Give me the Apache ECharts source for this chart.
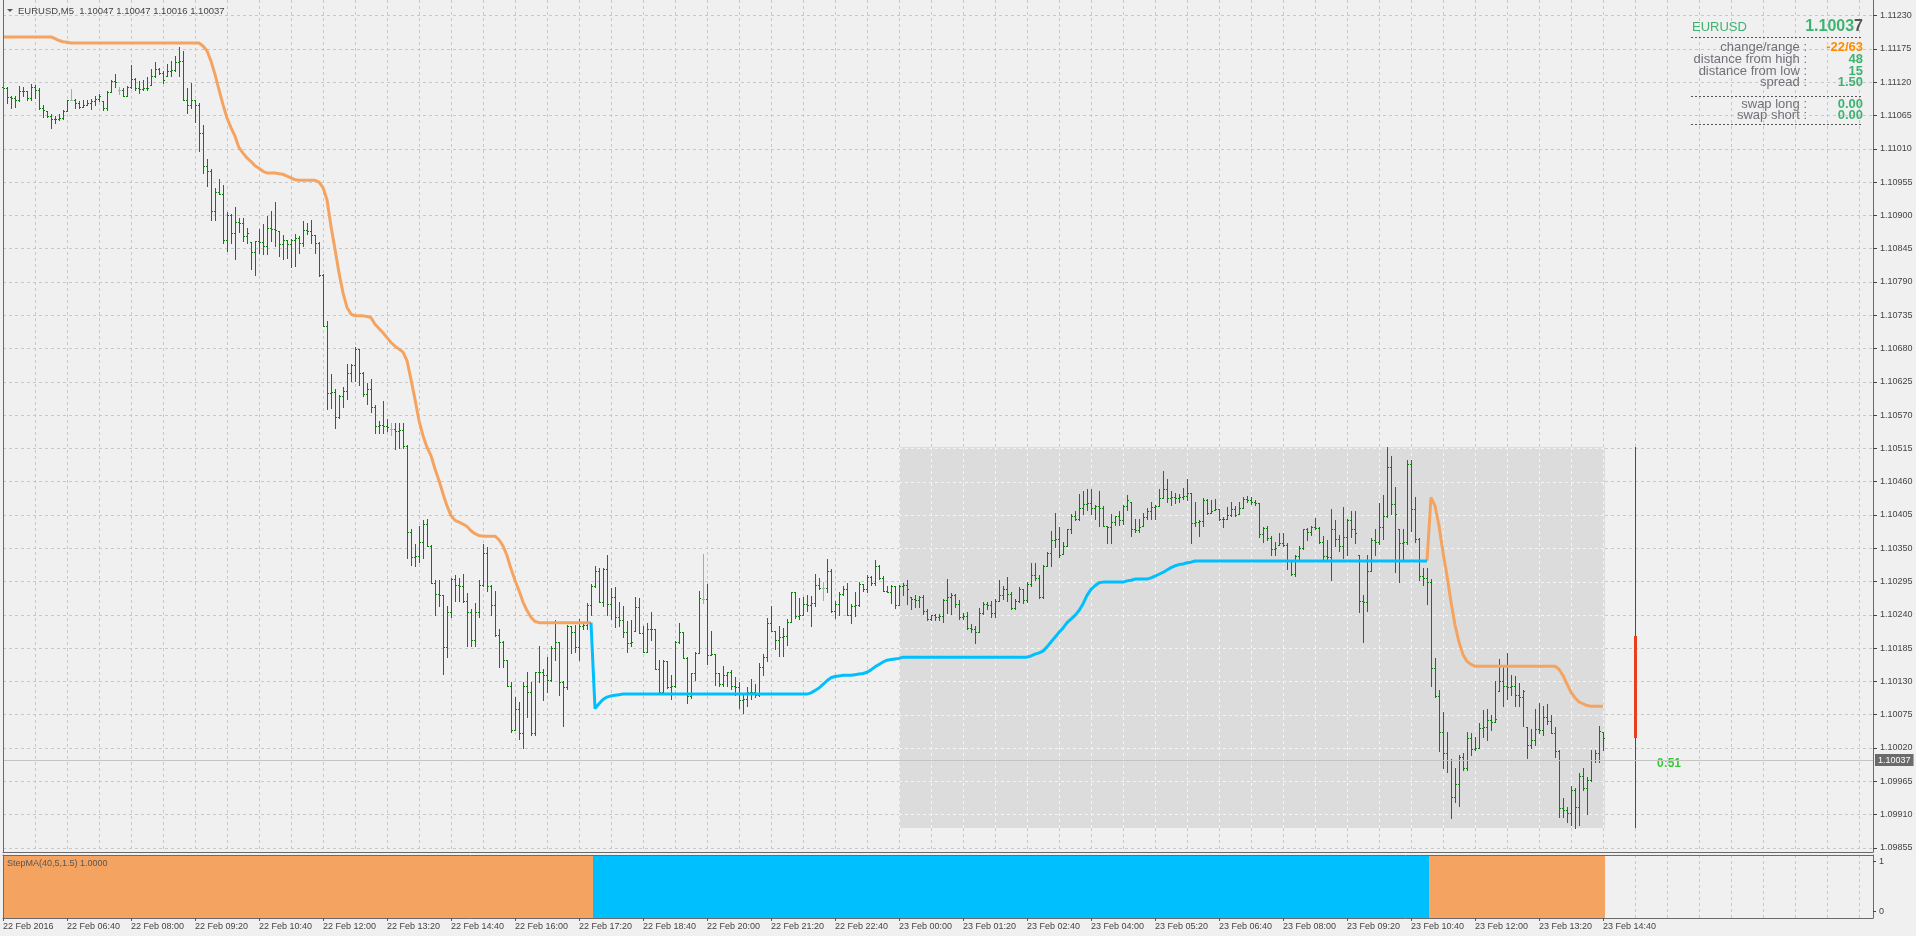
<!DOCTYPE html>
<html>
<head>
<meta charset="utf-8">
<title>EURUSD,M5</title>
<script src="https://cdn.jsdelivr.net/npm/echarts@6.0.0/dist/echarts.min.js"></script>
<style>
  html, body { margin: 0; padding: 0; background: #f0f0f0; }
  #chart { width: 1916px; height: 936px; }
</style>
</head>
<body>
<div id="chart"></div>
<script>
// EURUSD M5 bars, 22 Feb 2016 05:20 -> 23 Feb 2016 14:40 (bar index 0..400)
const opens = [
  1.11112,1.1111,1.11096,1.11094,1.1109,1.11106,1.11105,1.11094,1.11113,1.11108,
  1.11078,1.11072,1.11064,1.1106,1.11059,1.11061,1.11073,1.11091,1.11091,1.11086,
  1.1108,1.11083,1.11086,1.11089,1.11092,1.11089,1.11078,1.11104,1.11122,1.11108,
  1.11108,1.11098,1.11113,1.11125,1.11111,1.11109,1.1111,1.11116,1.1113,1.11142,
  1.11135,1.1113,1.11138,1.1114,1.11153,1.11155,1.11091,1.11082,1.11091,1.11083,
  1.11036,1.10981,1.10973,1.10907,1.10938,1.10936,1.1086,1.109,1.10871,1.10889,
  1.10888,1.10866,1.10856,1.10839,1.10858,1.10856,1.1085,1.1088,1.10878,1.10874,
  1.10852,1.10859,1.10852,1.1086,1.10862,1.10854,1.10876,1.10874,1.10867,1.10855,
  1.10801,1.10718,1.10606,1.10608,1.10567,1.10601,1.1061,1.10639,1.10652,1.1068,
  1.10639,1.10605,1.10613,1.10584,1.10552,1.10554,1.10552,1.10547,1.10547,1.10543,
  1.10545,1.10519,1.10376,1.10335,1.10337,1.1036,1.1039,1.10354,1.10293,1.10275,
  1.10273,1.10187,1.10244,1.10299,1.10289,1.10287,1.10262,1.10244,1.10198,1.10244,
  1.10289,1.10342,1.10287,1.10256,1.10206,1.10195,1.10166,1.10122,1.10049,1.10085,
  1.10044,1.10123,1.10113,1.10044,1.10145,1.10146,1.1014,1.10132,1.10185,1.10195,
  1.10129,1.10121,1.10221,1.10211,1.10187,1.10222,1.10223,1.10256,1.10288,1.10313,
  1.10261,1.10315,1.10258,1.10269,1.10236,1.10231,1.10211,1.10194,1.10214,1.10253,
  1.1021,1.10179,1.10217,1.10216,1.10151,1.10112,1.10163,1.10121,1.10123,1.10195,
  1.10211,1.10168,1.10106,1.10143,1.10177,1.10266,1.10266,1.10174,1.10176,1.10144,
  1.10126,1.1014,1.10146,1.10122,1.10121,1.101,1.10101,1.10113,1.10112,1.10107,
  1.10154,1.1017,1.10227,1.10214,1.10198,1.10203,1.10205,1.10228,1.10277,1.10238,
  1.1024,1.10258,1.10256,1.1026,1.10289,1.10284,1.10284,1.10313,1.10247,1.10258,
  1.10275,1.10283,1.10239,1.10254,1.10256,1.10291,1.10283,1.10302,1.10293,1.1032,
  1.103,1.1028,1.10278,1.10287,1.10257,1.10288,1.1029,1.10269,1.10266,1.10264,
  1.10269,1.10247,1.10233,1.10239,1.10237,1.10238,1.10264,1.10269,1.10272,1.10258,
  1.10236,1.10238,1.10218,1.10216,1.10212,1.10243,1.10258,1.10256,1.10243,1.10262,
  1.10273,1.10283,1.10275,1.10251,1.10262,1.10283,1.10264,1.10291,1.10305,1.103,
  1.10269,1.10321,1.10342,1.10363,1.10365,1.10341,1.10354,1.10381,1.10404,1.10398,
  1.10416,1.10423,1.10425,1.10416,1.10419,1.10417,1.10386,1.10385,1.10393,1.10403,
  1.10396,1.10419,1.10427,1.10382,1.1038,1.10386,1.10401,1.10412,1.10418,1.1042,
  1.10433,1.10448,1.10433,1.10434,1.10433,1.10434,1.10437,1.10441,1.10392,1.10393,
  1.10395,1.1043,1.10409,1.10414,1.10415,1.10398,1.10399,1.10405,1.10415,1.10407,
  1.10416,1.10431,1.10429,1.10427,1.10425,1.10374,1.10383,1.10367,1.10349,1.10356,
  1.10359,1.10356,1.1033,1.10308,1.10337,1.1035,1.10381,1.10376,1.10385,1.10383,
  1.1036,1.10337,1.10335,1.10381,1.10365,1.10354,1.10368,1.10396,1.10382,1.10339,
  1.10262,1.10261,1.10313,1.10364,1.1036,1.10385,1.10403,1.10484,1.10423,1.10382,
  1.10359,1.10361,1.10489,1.10415,1.10365,1.10304,1.10301,1.10294,1.10152,1.10106,
  1.10047,1.10011,1.1,1.09939,1.09961,1.10005,1.09987,1.10037,1.10018,1.1002,
  1.10053,1.10055,1.10066,1.10063,1.10114,1.1013,1.10122,1.1012,1.10123,1.10107,
  1.10104,1.10055,1.10024,1.10033,1.10052,1.10049,1.10071,1.10064,1.10045,1.10015,
  1.0992,1.09918,1.09912,1.0995,1.09923,1.09974,1.09953,1.09967,1.1,1.10011,
  1.10047
];
const highs = [
  1.1112,1.11113,1.11098,1.11098,1.11114,1.11113,1.11105,1.11117,1.11116,1.11111,
  1.11083,1.11072,1.11067,1.11064,1.11068,1.11075,1.11091,1.11109,1.11092,1.11089,
  1.11091,1.1109,1.11092,1.11097,1.111,1.11089,1.11105,1.11124,1.11134,1.11113,
  1.11111,1.11114,1.11148,1.11127,1.11122,1.11123,1.11129,1.11142,1.11153,1.11144,
  1.11138,1.1115,1.11155,1.11163,1.11178,1.11171,1.11111,1.11119,1.11091,1.11085,
  1.1105,1.10993,1.10977,1.10946,1.1096,1.10951,1.10905,1.10902,1.10914,1.10896,
  1.10895,1.1088,1.10856,1.10858,1.10877,1.10885,1.10899,1.10907,1.10922,1.10874,
  1.10867,1.1086,1.10861,1.10869,1.10866,1.1089,1.10888,1.10893,1.10867,1.10856,
  1.10803,1.10725,1.10638,1.10613,1.10603,1.10616,1.10654,1.10654,1.10682,1.1068,
  1.10642,1.10623,1.10629,1.10586,1.10561,1.10594,1.10564,1.10557,1.10557,1.10557,
  1.10557,1.1052,1.10382,1.10357,1.10387,1.10397,1.10398,1.10356,1.10298,1.10298,
  1.10273,1.10255,1.10301,1.10305,1.103,1.10308,1.10276,1.1025,1.1026,1.10297,
  1.10357,1.10352,1.10289,1.1028,1.10217,1.10196,1.10166,1.10129,1.10104,1.10096,
  1.10129,1.10146,1.10129,1.10146,1.10189,1.10151,1.1017,1.10189,1.10232,1.10195,
  1.1013,1.10223,1.10222,1.10223,1.10233,1.10228,1.1026,1.10291,1.1032,1.10317,
  1.10317,1.10339,1.10284,1.10286,1.10261,1.10255,1.10229,1.10231,1.10269,1.10268,
  1.10222,1.10227,1.10244,1.10217,1.10165,1.10166,1.10163,1.10141,1.10196,1.10227,
  1.10211,1.1017,1.10143,1.10178,1.1028,1.10341,1.10291,1.10213,1.10176,1.10144,
  1.10156,1.10146,1.10148,1.10137,1.10129,1.10107,1.10121,1.10134,1.10126,1.10161,
  1.10176,1.10234,1.10254,1.10214,1.10222,1.10218,1.10233,1.10278,1.10278,1.10267,
  1.10269,1.10273,1.10271,1.10308,1.103,1.10294,1.10332,1.10316,1.10262,1.10277,
  1.10287,1.10293,1.10258,1.10277,1.10295,1.10291,1.10305,1.10304,1.1033,1.10323,
  1.10304,1.10288,1.10289,1.10288,1.10289,1.10292,1.10298,1.10269,1.10272,1.10271,
  1.10272,1.1025,1.1024,1.10242,1.10242,1.10266,1.10299,1.10276,1.10275,1.10264,
  1.10243,1.10244,1.10225,1.10222,1.10251,1.10261,1.10261,1.10262,1.10266,1.10297,
  1.10288,1.10302,1.10277,1.10266,1.10286,1.10283,1.10294,1.10326,1.10326,1.10305,
  1.10322,1.10343,1.10378,1.10408,1.10385,1.1036,1.10382,1.10407,1.10412,1.1044,
  1.10445,1.10448,1.10448,1.10421,1.10444,1.1042,1.10386,1.10407,1.10404,1.10412,
  1.10421,1.10438,1.10427,1.10399,1.10399,1.10408,1.10416,1.10426,1.10421,1.10448,
  1.10478,1.10465,1.10445,1.10442,1.1044,1.10449,1.10465,1.10441,1.10427,1.10396,
  1.10433,1.10431,1.1043,1.10431,1.10415,1.10401,1.10418,1.10427,1.1042,1.10426,
  1.10434,1.10436,1.10434,1.10429,1.10425,1.10385,1.10386,1.10371,1.10361,1.10375,
  1.10375,1.10359,1.1033,1.10339,1.10353,1.10382,1.10383,1.10387,1.104,1.10385,
  1.10371,1.10363,1.10415,1.10396,1.10372,1.10418,1.10398,1.10411,1.10412,1.10339,
  1.10272,1.10339,1.10367,1.10382,1.10425,1.10438,1.10517,1.10503,1.10452,1.10382,
  1.10382,1.10495,1.10495,1.10434,1.10367,1.10317,1.10317,1.10299,1.10169,1.10115,
  1.10079,1.10047,1.10002,1.09987,1.10009,1.10011,1.10047,1.10045,1.10038,1.10062,
  1.10082,1.10085,1.10075,1.1013,1.10167,1.10157,1.10177,1.10141,1.10139,1.10128,
  1.10115,1.10055,1.10052,1.10084,1.10095,1.1009,1.10093,1.10074,1.10055,1.10016,
  1.09938,1.09923,1.09957,1.09953,1.09978,1.09986,1.09972,1.10016,1.10016,1.10056,
  1.10047
];
const lows = [
  1.11104,1.11086,1.11078,1.1108,1.11089,1.11097,1.11091,1.1109,1.11094,1.11076,
  1.11062,1.11062,1.11045,1.11053,1.11058,1.1106,1.11072,1.1109,1.11078,1.11078,
  1.1108,1.11083,1.11076,1.11083,1.11089,1.11075,1.11075,1.11104,1.11112,1.11101,
  1.11097,1.11097,1.11111,1.11108,1.11102,1.11107,1.11108,1.11116,1.11129,1.11133,
  1.11119,1.1113,1.1113,1.11138,1.1113,1.11091,1.11069,1.11078,1.11054,1.11006,
  1.1097,1.10948,1.10892,1.10893,1.10935,1.10855,1.10841,1.10854,1.10828,1.10872,
  1.10858,1.10854,1.10811,1.10801,1.10838,1.10836,1.10836,1.10858,1.10849,1.10833,
  1.10828,1.1083,1.10814,1.10816,1.10838,1.10849,1.10869,1.10855,1.10838,1.108,
  1.10718,1.1058,1.10581,1.10548,1.10566,1.10583,1.10596,1.10627,1.10627,1.1062,
  1.10602,1.10588,1.10575,1.10541,1.1054,1.1054,1.10544,1.10537,1.10514,1.10516,
  1.10516,1.10334,1.10322,1.1032,1.10328,1.10334,1.10354,1.10293,1.1024,1.10255,
  1.10142,1.1017,1.10236,1.10262,1.10262,1.10261,1.10188,1.10189,1.10188,1.10236,
  1.10287,1.10279,1.10239,1.10205,1.10154,1.10154,1.10122,1.10046,1.10049,1.10035,
  1.1002,1.10071,1.10041,1.10041,1.10129,1.10099,1.10112,1.1013,1.10166,1.10107,
  1.10057,1.10118,1.10177,1.10179,1.10166,1.10216,1.10217,1.1024,1.10286,1.10261,
  1.10255,1.1024,1.10233,1.1022,1.10222,1.10203,1.10179,1.10189,1.10214,1.1021,
  1.10179,1.10179,1.10199,1.1015,1.10112,1.10112,1.10119,1.10101,1.10121,1.10193,
  1.10168,1.10095,1.10103,1.10132,1.10177,1.1026,1.10159,1.10174,1.10124,1.10123,
  1.10122,1.10123,1.10117,1.10107,1.10086,1.10078,1.1009,1.10101,1.10104,1.10106,
  1.1014,1.10163,1.10213,1.10184,1.10172,1.10172,1.1019,1.10228,1.10235,1.10233,
  1.10239,1.10247,1.10221,1.10255,1.10283,1.10265,1.10277,1.10245,1.10234,1.10239,
  1.10272,1.10239,1.10227,1.10238,1.10254,1.1028,1.10277,1.10289,1.10289,1.10299,
  1.10279,1.10277,1.1026,1.10251,1.10257,1.10272,1.10258,1.1025,1.10253,1.10253,
  1.10242,1.10231,1.10231,1.10231,1.10232,1.10228,1.10243,1.10242,1.10253,1.10233,
  1.10233,1.10217,1.10211,1.10194,1.10211,1.10242,1.1025,1.10236,1.10236,1.10262,
  1.10266,1.10262,1.10249,1.1025,1.10261,1.1026,1.10261,1.10287,1.10298,1.10268,
  1.10268,1.10321,1.10321,1.10352,1.10335,1.10341,1.10354,1.10375,1.10397,1.10397,
  1.10407,1.10414,1.10407,1.10398,1.10387,1.10386,1.10359,1.10359,1.10388,1.10388,
  1.1039,1.10414,1.1037,1.10376,1.10376,1.10386,1.10398,1.10399,1.10399,1.10419,
  1.10433,1.10427,1.10421,1.10425,1.10427,1.10431,1.1043,1.10359,1.10387,1.1037,
  1.10386,1.10407,1.10409,1.10414,1.10396,1.10385,1.10399,1.10404,1.10403,1.10407,
  1.10416,1.10426,1.10423,1.10422,1.10368,1.10361,1.10363,1.10339,1.10339,1.10356,
  1.10354,1.10315,1.10306,1.10304,1.10332,1.10349,1.10364,1.10372,1.10381,1.10359,
  1.10332,1.10332,1.10298,1.10354,1.10345,1.10334,1.10338,1.10368,1.10359,1.10244,
  1.10195,1.10247,1.10313,1.10339,1.10357,1.10365,1.10401,1.10407,1.1031,1.10295,
  1.10332,1.10357,1.10378,1.10361,1.10298,1.1029,1.10258,1.10122,1.10104,1.10015,
  1.09987,1.0998,1.09904,1.09931,1.09924,1.09983,1.09983,1.10009,1.10016,1.1002,
  1.10038,1.10033,1.10049,1.10063,1.10114,1.10089,1.10101,1.10107,1.10089,1.1009,
  1.10057,1.10004,1.1002,1.10025,1.10045,1.10042,1.10059,1.10044,1.10005,1.09906,
  1.09906,1.09898,1.09892,1.09887,1.09892,1.0995,1.0991,1.09965,1.09997,1.09997,
  1.10016
];
const closes = [
  1.1111,1.11096,1.11094,1.1109,1.11106,1.11105,1.11094,1.11113,1.11108,1.11078,
  1.11074,1.11064,1.1106,1.11059,1.11061,1.11073,1.1109,1.11091,1.11086,1.11079,
  1.11083,1.11086,1.11089,1.11092,1.11097,1.11078,1.11104,1.11122,1.1112,1.11108,
  1.11098,1.11113,1.11125,1.11111,1.11109,1.1111,1.11111,1.1113,1.11142,1.11135,
  1.11124,1.11138,1.1114,1.11153,1.11155,1.11091,1.11082,1.11091,1.11083,1.11036,
  1.10981,1.10973,1.10907,1.10938,1.10936,1.1086,1.109,1.10871,1.10889,1.10888,
  1.10866,1.10871,1.10839,1.10858,1.10856,1.1085,1.1088,1.10878,1.10876,1.10852,
  1.10859,1.10852,1.1086,1.10862,1.10854,1.10876,1.10874,1.10867,1.10855,1.10801,
  1.10718,1.10606,1.10608,1.10567,1.10601,1.1061,1.10639,1.10652,1.1068,1.10639,
  1.10605,1.10613,1.10584,1.10552,1.10554,1.10552,1.1055,1.10547,1.10543,1.10545,
  1.10519,1.10376,1.10335,1.10337,1.1036,1.1039,1.10354,1.10293,1.10275,1.10273,
  1.10187,1.10244,1.10299,1.10289,1.10287,1.10262,1.10244,1.10198,1.10244,1.10289,
  1.10342,1.10287,1.10256,1.10206,1.10195,1.10166,1.10122,1.10049,1.10085,1.10044,
  1.10123,1.10113,1.10044,1.10145,1.10146,1.1014,1.10132,1.10185,1.10195,1.10129,
  1.10121,1.10221,1.10211,1.10187,1.10222,1.10223,1.10256,1.10288,1.10313,1.10261,
  1.10315,1.10258,1.10269,1.10236,1.10231,1.10211,1.10194,1.10195,1.10253,1.1021,
  1.10179,1.10217,1.10216,1.10151,1.10112,1.10163,1.10121,1.10123,1.10195,1.10211,
  1.10168,1.10106,1.10143,1.10177,1.10267,1.10266,1.10174,1.10176,1.10144,1.10126,
  1.1014,1.10146,1.10122,1.10121,1.101,1.10101,1.10113,1.10112,1.10107,1.10154,
  1.1017,1.10227,1.10214,1.10198,1.10203,1.10205,1.10228,1.10277,1.10238,1.1024,
  1.10258,1.10256,1.1026,1.10289,1.10284,1.10284,1.10313,1.10247,1.10258,1.10275,
  1.10283,1.10239,1.10254,1.10256,1.10291,1.10283,1.10302,1.10293,1.1032,1.103,
  1.1028,1.10278,1.10287,1.10257,1.10288,1.1029,1.10283,1.10266,1.10264,1.10269,
  1.10247,1.10233,1.10239,1.10237,1.10238,1.10264,1.10269,1.10272,1.10258,1.10236,
  1.10238,1.10218,1.10216,1.10212,1.10243,1.10258,1.10256,1.10243,1.10262,1.10273,
  1.10283,1.10275,1.10251,1.10262,1.10283,1.10264,1.10291,1.10305,1.103,1.10269,
  1.10321,1.10342,1.10363,1.10365,1.10339,1.10354,1.10381,1.10404,1.10398,1.10416,
  1.10423,1.10425,1.10416,1.10419,1.10417,1.10387,1.10385,1.10393,1.10403,1.10396,
  1.10419,1.10429,1.10382,1.1038,1.10385,1.10401,1.10412,1.10418,1.1042,1.10433,
  1.10448,1.10433,1.10434,1.10433,1.10434,1.10437,1.10441,1.10392,1.10393,1.10395,
  1.1043,1.10409,1.10412,1.10415,1.10398,1.10399,1.10405,1.10415,1.10405,1.10416,
  1.10431,1.10429,1.10427,1.10425,1.10374,1.10383,1.10367,1.10349,1.10351,1.10359,
  1.10356,1.1033,1.10308,1.10337,1.1035,1.10381,1.10376,1.10385,1.10383,1.1036,
  1.10337,1.10335,1.10381,1.10365,1.10354,1.10368,1.10396,1.10382,1.10375,1.10262,
  1.10261,1.10313,1.10364,1.1036,1.10385,1.10403,1.10484,1.10423,1.10407,1.10359,
  1.10361,1.10489,1.10415,1.10365,1.10304,1.10301,1.10294,1.10152,1.10106,1.10047,
  1.10011,1.1,1.09939,1.09961,1.10005,1.09987,1.10037,1.10018,1.1002,1.10053,
  1.10055,1.10066,1.10063,1.10068,1.1013,1.10122,1.1012,1.10123,1.10107,1.10104,
  1.10114,1.10024,1.10033,1.10052,1.10049,1.10071,1.10064,1.10045,1.10015,1.0992,
  1.09918,1.09912,1.0995,1.09923,1.09974,1.09953,1.09967,1.1,1.10011,1.10048,
  1.10037
];

// StepMA(40,5,1.5) value on every bar
const stepMA = [
  1.11195,1.11195,1.11195,1.11195,1.11195,1.11195,1.11195,1.11195,1.11195,1.11195,
  1.11195,1.11195,1.11195,1.11192,1.11189,1.11187,1.11186,1.11185,1.11185,1.11185,
  1.11185,1.11185,1.11185,1.11185,1.11185,1.11185,1.11185,1.11185,1.11185,1.11185,
  1.11185,1.11185,1.11185,1.11185,1.11185,1.11185,1.11185,1.11185,1.11185,1.11185,
  1.11185,1.11185,1.11185,1.11185,1.11185,1.11185,1.11185,1.11185,1.11185,1.11185,
  1.1118,1.11172,1.11155,1.11133,1.11108,1.11083,1.11061,1.11045,1.11031,1.11012,
  1.11003,1.10995,1.10989,1.10982,1.10978,1.10973,1.1097,1.1097,1.1097,1.10969,
  1.10968,1.10965,1.10962,1.10959,1.10958,1.10958,1.10958,1.10958,1.10958,1.10955,
  1.10946,1.10926,1.10882,1.10844,1.10805,1.10772,1.10748,1.10737,1.10734,1.10734,
  1.10734,1.10733,1.10731,1.1072,1.10713,1.10706,1.10698,1.1069,1.10684,1.10679,
  1.10674,1.1066,1.10629,1.10596,1.10561,1.10536,1.10517,1.10503,1.10481,1.10462,
  1.1044,1.1042,1.10404,1.10396,1.10393,1.1039,1.10386,1.10379,1.10374,1.10371,
  1.1037,1.1037,1.1037,1.1037,1.10364,1.10354,1.10338,1.10316,1.10297,1.1028,
  1.10261,1.10247,1.10236,1.10229,1.10227,1.10227,1.10227,1.10227,1.10227,1.10227,
  1.10227,1.10227,1.10227,1.10227,1.10227,1.10227,1.10227,1.10227,1.10085,1.10093,
  1.101,1.10104,1.10106,1.10107,1.10108,1.10109,1.10109,1.10109,1.10109,1.10109,
  1.10109,1.10109,1.10109,1.10109,1.10109,1.10109,1.10109,1.10109,1.10109,1.10109,
  1.10109,1.10109,1.10109,1.10109,1.10109,1.10109,1.10109,1.10109,1.10109,1.10109,
  1.10109,1.10109,1.10109,1.10109,1.10109,1.10109,1.10109,1.10109,1.10109,1.10109,
  1.10109,1.10109,1.10109,1.10109,1.10109,1.10109,1.10109,1.10109,1.10109,1.10109,
  1.10109,1.10109,1.10111,1.10115,1.10119,1.10125,1.10131,1.10136,1.10138,1.10139,
  1.1014,1.1014,1.1014,1.10141,1.10142,1.10143,1.10145,1.10149,1.10154,1.10158,
  1.10162,1.10165,1.10166,1.10167,1.10168,1.1017,1.1017,1.1017,1.1017,1.1017,
  1.1017,1.1017,1.1017,1.1017,1.1017,1.1017,1.1017,1.1017,1.1017,1.1017,
  1.1017,1.1017,1.1017,1.1017,1.1017,1.1017,1.1017,1.1017,1.1017,1.1017,
  1.1017,1.1017,1.1017,1.1017,1.1017,1.1017,1.1017,1.10172,1.10175,1.10177,
  1.1018,1.10187,1.10195,1.10203,1.10211,1.10218,1.10227,1.10233,1.10239,1.10247,
  1.10258,1.10272,1.10282,1.10288,1.10293,1.10294,1.10294,1.10294,1.10294,1.10294,
  1.10294,1.10296,1.10297,1.10299,1.10299,1.10299,1.10299,1.10301,1.10304,1.10307,
  1.1031,1.10314,1.10318,1.10321,1.10323,1.10324,1.10326,1.10327,1.10329,1.10329,
  1.10329,1.10329,1.10329,1.10329,1.10329,1.10329,1.10329,1.10329,1.10329,1.10329,
  1.10329,1.10329,1.10329,1.10329,1.10329,1.10329,1.10329,1.10329,1.10329,1.10329,
  1.10329,1.10329,1.10329,1.10329,1.10329,1.10329,1.10329,1.10329,1.10329,1.10329,
  1.10329,1.10329,1.10329,1.10329,1.10329,1.10329,1.10329,1.10329,1.10329,1.10329,
  1.10329,1.10329,1.10329,1.10329,1.10329,1.10329,1.10329,1.10329,1.10329,1.10329,
  1.10329,1.10329,1.10329,1.10329,1.10329,1.10329,1.10329,1.10434,1.1042,1.10387,
  1.10343,1.10305,1.10261,1.10223,1.10195,1.10174,1.10163,1.10158,1.10155,1.10155,
  1.10155,1.10155,1.10155,1.10155,1.10155,1.10155,1.10155,1.10155,1.10155,1.10155,
  1.10155,1.10155,1.10155,1.10155,1.10155,1.10155,1.10155,1.10155,1.10155,1.1015,
  1.1014,1.10126,1.10112,1.10103,1.10096,1.10093,1.1009,1.10089,1.10089,1.10089,
  1.10089
];
// trend runs of the StepMA colour (bar index from..to)
const trendRuns = [[0, 147, 'down'], [148, 356, 'up'], [357, 400, 'down']];

// x axis labels every 16 bars
const tickBars = [0,16,32,48,64,80,96,112,128,144,160,176,192,208,224,240,256,272,288,304,320,336,352,368,384,400];
const tickLabels = ['22 Feb 2016','22 Feb 06:40','22 Feb 08:00','22 Feb 09:20','22 Feb 10:40','22 Feb 12:00',
  '22 Feb 13:20','22 Feb 14:40','22 Feb 16:00','22 Feb 17:20','22 Feb 18:40','22 Feb 20:00','22 Feb 21:20',
  '22 Feb 22:40','23 Feb 00:00','23 Feb 01:20','23 Feb 02:40','23 Feb 04:00','23 Feb 05:20','23 Feb 06:40',
  '23 Feb 08:00','23 Feb 09:20','23 Feb 10:40','23 Feb 12:00','23 Feb 13:20','23 Feb 14:40'];
const priceTicks = [1.11230,1.11175,1.11120,1.11065,1.11010,1.10955,1.10900,1.10845,1.10790,1.10735,
  1.10680,1.10625,1.10570,1.10515,1.10460,1.10405,1.10350,1.10295,1.10240,1.10185,1.10130,1.10075,
  1.10020,1.09965,1.09910,1.09855];

const symbol = 'EURUSD';
const period = 'M5';
const dayStart = 224;          // 23 Feb 00:00
const timerBar = 408;
const timerText = '0:51';
const timerCandleOpen = 1.10205;
const spread = 1.50;
const swapLong = 0.00;
const swapShort = 0.00;

const FONT = '"Liberation Sans", Arial, sans-serif';
const DOWN = '#F4A460';
const UP = '#00BFFF';
const GREEN = '#3CB371';
const last = closes.length - 1;
const lastClose = closes[last];
const dayHigh = Math.max(...highs.slice(dayStart));
const dayLow = Math.min(...lows.slice(dayStart));
const dayOpen = opens[dayStart];
const pip = 0.0001;
const changePips = Math.round((lastClose - dayOpen) / pip);
const rangePips = Math.round((dayHigh - dayLow) / pip);
const fromHigh = Math.round((dayHigh - lastClose) / pip);
const fromLow = Math.round((lastClose - dayLow) / pip);

function trendAt(i) {
  for (const r of trendRuns) if (i >= r[0] && i <= r[1]) return r[2];
  return null;
}

const barData = closes.map((c, i) => [i, opens[i], highs[i], lows[i], c]);
const downLine = stepMA.map((v, i) => [i, (trendAt(i) === 'down' || trendAt(i + 1) === 'down') ? v : '-']);
const upLine = stepMA.map((v, i) => [i, (trendAt(i) === 'up' || trendAt(i + 1) === 'up') ? v : '-']);
const trendData = stepMA.map((v, i) => [i, 1, trendAt(i) === 'up' ? 1 : 0]);

function renderBar(params, api) {
  const i = api.value(0);
  const o = api.coord([i, api.value(1)]);
  const h = api.coord([i, api.value(2)]);
  const l = api.coord([i, api.value(3)]);
  const c = api.coord([i, api.value(4)]);
  const x = Math.floor(h[0]);
  const yH = Math.round(h[1]);
  const yL = Math.round(l[1]);
  const color = api.value(1) === api.value(4) ? '#A9A9A9' : '#0A800A';
  return {
    type: 'group',
    children: [
      { type: 'rect', shape: { x: x, y: yH, width: 1, height: Math.max(1, yL - yH + 1) }, style: { fill: color } },
      { type: 'rect', shape: { x: x - 1, y: Math.round(o[1]), width: 1, height: 1 }, style: { fill: color } },
      { type: 'rect', shape: { x: x + 1, y: Math.round(c[1]), width: 1, height: 1 }, style: { fill: color } }
    ]
  };
}

function renderDayBox(params, api) {
  const s = api.value(0), e = api.value(1), hi = api.value(2), lo = api.value(3);
  const a = api.coord([s, hi]);
  const b = api.coord([e, lo]);
  const left = Math.floor(a[0]);
  const right = Math.floor(b[0]) + 2;
  const top = Math.round(a[1]);
  const bottom = Math.round(b[1]);
  const children = [{ type: 'rect', shape: { x: left, y: top, width: right - left, height: bottom - top }, style: { fill: '#DCDCDC' } }];
  priceTicks.forEach(p => {
    if (p > lo && p < hi) {
      const y = Math.round(api.coord([s, p])[1]) + 0.5;
      children.push({ type: 'line', shape: { x1: left, y1: y, x2: right, y2: y }, style: { stroke: '#F4F4F4', lineWidth: 1, lineDash: [3, 3] } });
    }
  });
  for (let k = Math.ceil(s / 8) * 8; k <= e; k += 8) {
    const x = Math.round(api.coord([k, hi])[0]) + 0.5;
    children.push({ type: 'line', shape: { x1: x, y1: top, x2: x, y2: bottom }, style: { stroke: '#F4F4F4', lineWidth: 1, lineDash: [3, 3] } });
  }
  return { type: 'group', children: children };
}

function renderDayCandle(params, api) {
  const i = api.value(0);
  const o = api.coord([i, api.value(1)]);
  const h = api.coord([i, api.value(2)]);
  const l = api.coord([i, api.value(3)]);
  const c = api.coord([i, api.value(4)]);
  const x = Math.floor(h[0]);
  const yO = Math.round(o[1]), yC = Math.round(c[1]);
  return {
    type: 'group',
    children: [
      { type: 'rect', shape: { x: x, y: Math.round(h[1]), width: 1, height: Math.round(l[1]) - Math.round(h[1]) }, style: { fill: '#FF0000' } },
      { type: 'rect', shape: { x: x - 1, y: Math.min(yO, yC), width: 3, height: Math.abs(yC - yO) }, style: { fill: '#E8401C' } },
      { type: 'text', x: x + 22, y: yC + 26, style: { text: timerText, font: 'bold 12px ' + FONT, fill: '#32CD32', verticalAlign: 'middle' } }
    ]
  };
}

function renderTrend(params, api) {
  const i = api.value(0);
  const a = api.coord([i - 0.5, api.value(1)]);
  const b = api.coord([i + 0.5, 0]);
  const x0 = Math.round(a[0]), x1 = Math.round(b[0]);
  const y0 = Math.round(a[1]) + 1, y1 = Math.round(b[1]);
  return { type: 'rect', shape: { x: x0, y: y0, width: x1 - x0, height: y1 - y0 }, style: { fill: api.value(2) === 1 ? UP : DOWN } };
}

const gridLine = { show: true, lineStyle: { color: '#C8C8C8', width: 1, type: [3, 3] } };
const border = { show: true, onZero: false, lineStyle: { color: '#6A6A6A', width: 1 } };
const axisText = { fontFamily: FONT, fontSize: 9, color: '#444' };

const titleText = symbol + ',' + period + '  ' + [opens[last], highs[last], lows[last], closes[last]].map(v => v.toFixed(5)).join(' ');
const priceStr = lastClose.toFixed(5);

const infoRows = [
  { label: 'change/range :', value: changePips + '/' + rangePips, color: '#FF8C00', y: 47 },
  { label: 'distance from high :', value: String(fromHigh), color: GREEN, y: 59 },
  { label: 'distance from low :', value: String(fromLow), color: GREEN, y: 71 },
  { label: 'spread :', value: spread.toFixed(2), color: GREEN, y: 82 },
  { label: 'swap long :', value: swapLong.toFixed(2), color: GREEN, y: 104 },
  { label: 'swap short :', value: swapShort.toFixed(2), color: GREEN, y: 115 }
];
const graphics = [
  { type: 'polygon', z: 100, shape: { points: [[7, 9], [13, 9], [10, 12]] }, style: { fill: '#555' } },
  { type: 'text', z: 100, x: 18, y: 11, style: { text: titleText, font: '9.5px ' + FONT, fill: '#444', verticalAlign: 'middle' } },
  { type: 'text', z: 100, x: 7, y: 864, style: { text: 'StepMA(40,5,1.5) 1.0000', font: '9px ' + FONT, fill: '#555', verticalAlign: 'middle' } },
  { type: 'text', z: 100, x: 1692, y: 27, style: { text: symbol, font: '13px ' + FONT, fill: GREEN, verticalAlign: 'middle' } },
  { type: 'text', z: 100, x: 1863, y: 27, style: {
      text: '{a|' + priceStr.slice(0, -1) + '}{b|' + priceStr.slice(-1) + '}',
      align: 'right', verticalAlign: 'middle',
      rich: { a: { font: 'bold 16px ' + FONT, fill: GREEN }, b: { font: 'bold 16px ' + FONT, fill: '#555' } } } },
  { type: 'line', z: 100, shape: { x1: 1691, y1: 37.5, x2: 1863, y2: 37.5 }, style: { stroke: '#555', lineWidth: 1, lineDash: [2, 2] } },
  { type: 'line', z: 100, shape: { x1: 1691, y1: 96.5, x2: 1863, y2: 96.5 }, style: { stroke: '#555', lineWidth: 1, lineDash: [2, 2] } },
  { type: 'line', z: 100, shape: { x1: 1691, y1: 124.5, x2: 1863, y2: 124.5 }, style: { stroke: '#555', lineWidth: 1, lineDash: [2, 2] } }
];
infoRows.forEach(r => {
  graphics.push({ type: 'text', z: 100, x: 1807, y: r.y, style: { text: r.label, font: '13px ' + FONT, fill: '#707078', align: 'right', verticalAlign: 'middle' } });
  graphics.push({ type: 'text', z: 100, x: 1863, y: r.y, style: { text: r.value, font: 'bold 13px ' + FONT, fill: r.color, align: 'right', verticalAlign: 'middle' } });
});

const chart = echarts.init(document.getElementById('chart'));
chart.setOption({
  animation: false,
  backgroundColor: '#F0F0F0',
  grid: [
    { left: 3, top: 0, width: 1870, height: 852, outerBoundsMode: 'none' },
    { left: 3, top: 855, width: 1870, height: 63, outerBoundsMode: 'none' }
  ],
  xAxis: [
    { gridIndex: 0, type: 'value', min: 0, max: 467.5, interval: 8, axisLine: border, axisTick: { show: false }, axisLabel: { show: false }, splitLine: gridLine },
    { gridIndex: 1, type: 'value', min: 0, max: 467.5, z: 10, axisLine: border,
      axisTick: { show: true, length: 3, customValues: tickBars, lineStyle: { color: '#555' } },
      axisLabel: Object.assign({ customValues: tickBars, align: 'left', margin: 4, formatter: v => tickLabels[tickBars.indexOf(v)] || '' }, axisText),
      splitLine: { show: false } },
    { gridIndex: 1, type: 'value', position: 'top', min: 0, max: 467.5, z: 10, axisLine: border, axisTick: { show: false }, axisLabel: { show: false }, splitLine: { show: false } },
    { gridIndex: 1, type: 'value', min: 0, max: 467.5, interval: 8, axisLine: { show: false }, axisTick: { show: false }, axisLabel: { show: false }, splitLine: gridLine }
  ],
  yAxis: [
    { gridIndex: 0, type: 'value', position: 'right', min: 1.09848, max: 1.11256, axisLine: border,
      axisTick: { show: true, length: 4, customValues: priceTicks, lineStyle: { color: '#444' } },
      axisLabel: Object.assign({ customValues: priceTicks, margin: 7, formatter: v => v.toFixed(5) }, axisText),
      splitLine: gridLine },
    { gridIndex: 1, type: 'value', min: 0, max: 1, show: false },
    { gridIndex: 1, type: 'value', position: 'right', min: -0.126, max: 1.134, z: 10, axisLine: border,
      axisTick: { show: true, length: 3, customValues: [0, 1], lineStyle: { color: '#444' } },
      axisLabel: Object.assign({ customValues: [0, 1], margin: 6, formatter: v => String(v) }, axisText),
      splitLine: { show: false } },
    { gridIndex: 0, type: 'value', position: 'left', min: 0, max: 1, z: 10, axisLine: border, axisTick: { show: false }, axisLabel: { show: false }, splitLine: { show: false } },
    { gridIndex: 1, type: 'value', position: 'left', min: 0, max: 1, z: 10, axisLine: border, axisTick: { show: false }, axisLabel: { show: false }, splitLine: { show: false } }
  ],
  series: [
    { type: 'custom', name: 'day range', xAxisIndex: 0, yAxisIndex: 0, silent: true,
      renderItem: renderDayBox, data: [[dayStart, last, dayHigh, dayLow]] },
    { type: 'custom', name: symbol, xAxisIndex: 0, yAxisIndex: 0, silent: true,
      renderItem: renderBar, encode: { x: 0, y: [1, 2, 3, 4] }, data: barData },
    { type: 'line', name: 'StepMA down', xAxisIndex: 0, yAxisIndex: 0, data: downLine, showSymbol: false, silent: true,
      connectNulls: false, lineStyle: { color: DOWN, width: 3 },
      markLine: { silent: true, symbol: 'none', data: [{ yAxis: lastClose }],
        lineStyle: { color: '#C4C4C4', type: 'solid', width: 1 },
        label: { position: 'end', distance: 2, formatter: priceStr, color: '#fff', backgroundColor: '#6B6B6B',
          padding: [2, 3, 1, 3], fontFamily: FONT, fontSize: 9 } } },
    { type: 'line', name: 'StepMA up', xAxisIndex: 0, yAxisIndex: 0, data: upLine, showSymbol: false, silent: true,
      connectNulls: false, lineStyle: { color: UP, width: 3 } },
    { type: 'custom', name: 'day candle', xAxisIndex: 0, yAxisIndex: 0, silent: true,
      renderItem: renderDayCandle, data: [[timerBar, timerCandleOpen, dayHigh, dayLow, lastClose]] },
    { type: 'custom', name: 'StepMA trend', xAxisIndex: 1, yAxisIndex: 1, silent: true, clip: true,
      renderItem: renderTrend, data: trendData }
  ],
  graphic: graphics
});
</script>
</body>
</html>
